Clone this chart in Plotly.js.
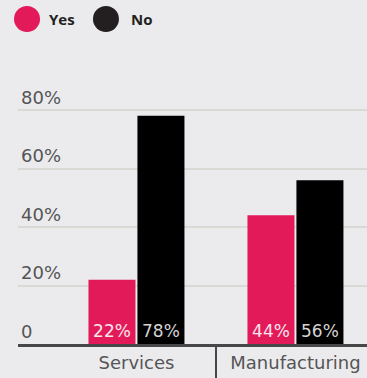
<!DOCTYPE html>
<html><head><meta charset="utf-8">
<script src="https://cdn.plot.ly/plotly-3.0.1.min.js"></script>
<style>html,body{margin:0;padding:0;background:#ebebee;overflow:hidden}</style>
</head>
<body><div id="chart" style="width:367px;height:378px"></div>
<script>
const categories = ['Services', 'Manufacturing'];
const seriesNames = ['Yes', 'No'];
const yesValues = [22, 44];
const noValues = [78, 56];
const yTickVals = [0, 20, 40, 60, 80];
const yTickText = ['0', '20%', '40%', '60%', '80%'];

const pink = '#e31a5a';
const black = '#000000';
const FONT = 'DejaVu Sans, sans-serif';
const LFONT = 'Open Sans, sans-serif';

const traces = [
  {type: 'bar', name: seriesNames[0], x: categories, y: yesValues,
   marker: {color: pink}, texttemplate: '%{y}%', textposition: 'inside',
   insidetextanchor: 'start', textangle: 0, constraintext: 'none',
   insidetextfont: {family: FONT, size: 17, color: '#fbe6ee'},
   hoverinfo: 'skip', showlegend: false},
  {type: 'bar', name: seriesNames[1], x: categories, y: noValues,
   marker: {color: black}, texttemplate: '%{y}%', textposition: 'inside',
   insidetextanchor: 'start', textangle: 0, constraintext: 'none',
   insidetextfont: {family: FONT, size: 17, color: '#d4d4d4'},
   hoverinfo: 'skip', showlegend: false}
];

const legendColors = [pink, '#231f20'];
const legendX = [0.0258, 0.252];
const textX = [0.083, 0.318];
const shapes = [];
const annotations = [];
seriesNames.forEach((n, i) => {
  shapes.push({type: 'circle', xref: 'paper', yref: 'paper', xsizemode: 'pixel', ysizemode: 'pixel',
    xanchor: legendX[i], yanchor: 1.231, x0: -13, x1: 13, y0: -13, y1: 13,
    fillcolor: legendColors[i], line: {width: 0}});
  annotations.push({xref: 'paper', yref: 'paper', x: textX[i], y: 1.231, xanchor: 'left', yanchor: 'middle',
    text: '<b>' + n + '</b>', showarrow: false, font: {family: LFONT, size: 15, color: '#231f20'}});
});

const layout = {
  width: 367, height: 378,
  margin: {l: 18, r: 0, t: 80, b: 34, pad: 0},
  paper_bgcolor: '#ebebee', plot_bgcolor: '#ebebee',
  barmode: 'group', bargap: 0.384, bargroupgap: 0.04,
  showlegend: false,
  xaxis: {type: 'category', range: [-0.745, 1.45], showgrid: false, zeroline: false,
    showline: true, linecolor: '#474747', linewidth: 3,
    ticks: 'outside', tickson: 'boundaries', ticklen: 34, tickwidth: 2, tickcolor: '#474747',
    tickfont: {family: FONT, size: 18, color: '#555555'}, fixedrange: true},
  yaxis: {range: [0, 90.26], tickvals: yTickVals, ticktext: yTickText,
    ticklabelposition: 'inside top', showgrid: true, gridcolor: '#d9d9d5', gridwidth: 2,
    zeroline: false, showline: false, ticks: '',
    tickfont: {family: FONT, size: 18, color: '#555555'}, fixedrange: true},
  shapes: shapes,
  annotations: annotations
};

Plotly.newPlot('chart', traces, layout, {displayModeBar: false, staticPlot: true});
</script>
</body></html>
